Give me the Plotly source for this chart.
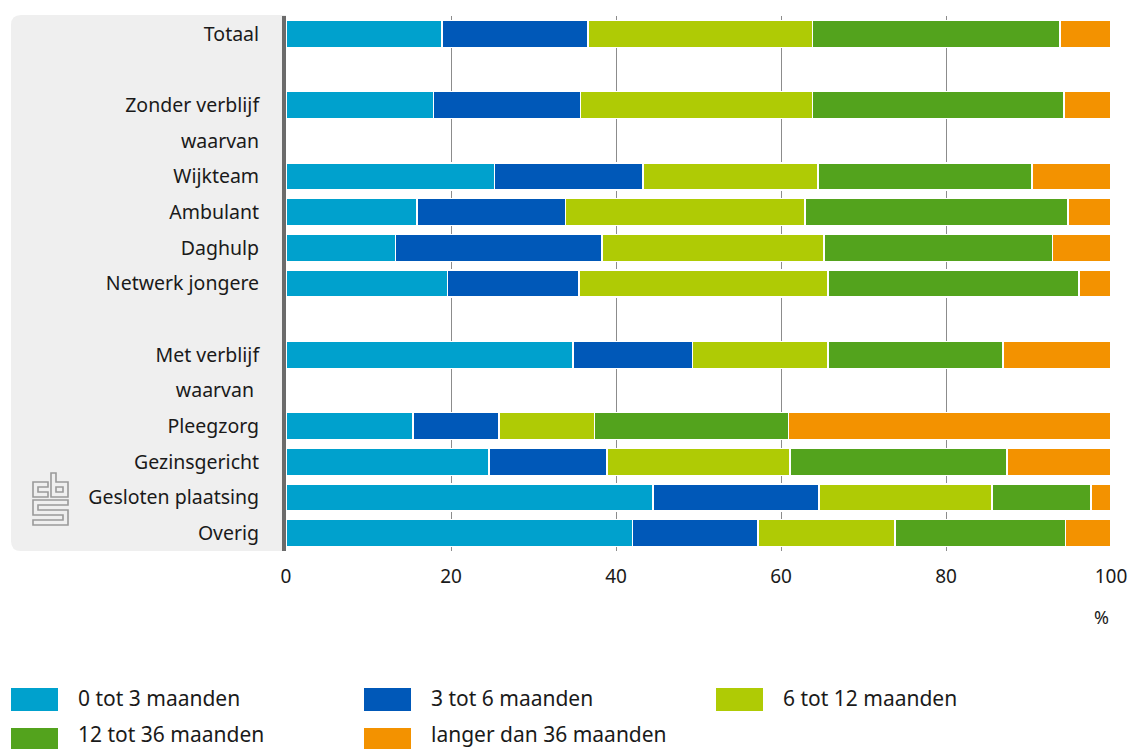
import plotly.graph_objects as go

# ── Data ──────────────────────────────────────────────────────────────────────
rows = [
    "Totaal", " ", "Zonder verblijf", "waarvan", "Wijkteam", "Ambulant",
    "Daghulp", "Netwerk jongere", "  ", "Met verblijf", "waarvan ",
    "Pleegzorg", "Gezinsgericht", "Gesloten plaatsing", "Overig",
]
series = [
    "0 tot 3 maanden", "3 tot 6 maanden", "6 tot 12 maanden",
    "12 tot 36 maanden", "langer dan 36 maanden",
]
m0_3   = [18.9, None, 17.9, None, 25.3, 15.9, 13.3, 19.6, None, 34.8, None, 15.4, 24.6, 44.5, 42.0]
m3_6   = [17.7, None, 17.8, None, 18.0, 18.0, 25.0, 15.9, None, 14.5, None, 10.4, 14.3, 20.1, 15.2]
m6_12  = [27.2, None, 28.1, None, 21.2, 29.0, 26.9, 30.2, None, 16.4, None, 11.6, 22.2, 21.0, 16.6]
m12_36 = [30.0, None, 30.5, None, 25.9, 31.9, 27.7, 30.4, None, 21.2, None, 23.5, 26.3, 12.0, 20.7]
m36    = [6.2, None, 5.7, None, 9.6, 5.2, 7.1, 3.9, None, 13.1, None, 39.1, 12.6, 2.4, 5.5]
values = [m0_3, m3_6, m6_12, m12_36, m36]
colors = ["#00a1cd", "#0058b8", "#afcb05", "#53a31d", "#f39200"]

x_ticks = [0, 20, 40, 60, 80, 100]

# ── Geometry ──────────────────────────────────────────────────────────────────
W, H = 1130, 749
ML, MT = 286, 16
PR, PB = 1111, 551
MR, MB = W - PR, H - PB
PW, PH = PR - ML, PB - MT
FONT = "Noto Sans, Lato, sans-serif"
TEXT = "#1a1a1a"


def px(x):
    # page pixel -> paper fraction
    return (x - ML) / PW


def py(y):
    return 1 - (y - MT) / PH


def path(points, close=True):
    s = "M " + " L ".join(f"{px(x):.5f},{py(y):.5f}" for x, y in points)
    return s + (" Z" if close else "")


fig = go.Figure()
for name, vals, col in zip(series, values, colors):
    fig.add_trace(go.Bar(
        y=rows, x=vals, name=name, orientation="h",
        marker=dict(color=col, line=dict(color="white", width=1.5)),
        width=0.76, showlegend=False, hoverinfo="x+y+name",
    ))

shapes = []
# grey label panel with rounded left corners
r = 10
x0, x1, y0, y1 = 11, 286, 15, 551
panel = (f"M {px(x1):.5f},{py(y0):.5f} L {px(x0 + r):.5f},{py(y0):.5f} "
         f"Q {px(x0):.5f},{py(y0):.5f} {px(x0):.5f},{py(y0 + r):.5f} "
         f"L {px(x0):.5f},{py(y1 - r):.5f} "
         f"Q {px(x0):.5f},{py(y1):.5f} {px(x0 + r):.5f},{py(y1):.5f} "
         f"L {px(x1):.5f},{py(y1):.5f} Z")
shapes.append(dict(type="path", path=panel, xref="paper", yref="paper",
                   fillcolor="#efefef", line=dict(width=0), layer="below"))

# cbs logo
logo = dict(color="#9a9a9a", width=1.6)
for pts in [
    [(48, 482), (33, 482), (33, 497), (48, 497), (48, 492), (38, 492), (38, 487), (48, 487)],
    [(51, 473), (56, 473), (56, 482), (68, 482), (68, 497), (51, 497)],
    [(56, 487), (63, 487), (63, 492), (56, 492)],
    [(33, 500), (68, 500), (68, 505), (38, 505), (38, 510), (68, 510), (68, 525),
     (33, 525), (33, 520), (63, 520), (63, 515), (33, 515)],
]:
    shapes.append(dict(type="path", path=path(pts), xref="paper", yref="paper",
                       line=logo, fillcolor="rgba(0,0,0,0)"))

# legend swatches and labels (second row sits at the bottom edge)
annotations = []
leg_pos = [(11, 688, 698), (364, 688, 698), (716, 688, 698), (11, 728, 734), (364, 728, 734)]
for (lx, ly, ty), name, col in zip(leg_pos, series, colors):
    shapes.append(dict(type="rect", xref="paper", yref="paper",
                       x0=px(lx), x1=px(lx + 47), y0=py(ly), y1=py(ly + 23),
                       fillcolor=col, line=dict(width=0)))
    annotations.append(dict(text=name, xref="paper", yref="paper",
                            x=px(lx + 65), y=py(ty), xanchor="left", yanchor="middle",
                            showarrow=False, font=dict(family=FONT, size=21, color=TEXT)))

annotations.append(dict(text="%", xref="paper", yref="paper", x=px(1111), y=py(617),
                        xanchor="right", yanchor="middle", showarrow=False,
                        font=dict(family=FONT, size=18, color=TEXT)))

fig.update_layout(
    width=W, height=H,
    margin=dict(l=ML, r=MR, t=MT, b=MB),
    barmode="stack",
    bargap=0.24,
    plot_bgcolor="white",
    paper_bgcolor="white",
    font=dict(family=FONT, size=19, color=TEXT),
    xaxis=dict(
        range=[0, 100], tickvals=x_ticks, showgrid=True, gridcolor="#8c8c8c",
        gridwidth=1.2, zeroline=False, showline=False, ticks="", automargin=False,
        tickfont=dict(size=19, color=TEXT), ticklabelstandoff=12,
    ),
    yaxis=dict(
        categoryorder="array", categoryarray=rows, autorange="reversed",
        showgrid=False, showline=True, linecolor="#6b6b6b", linewidth=4,
        ticks="", ticklabelstandoff=19, tickfont=dict(size=19.5, color=TEXT),
        automargin=False,
    ),
    shapes=shapes,
    annotations=annotations,
    showlegend=False,
)

# page without body margin / scrollbars so the figure fills the window exactly
fig.write_html(
    "out.html",
    config={"displayModeBar": False},
    post_script="document.body.style.margin='0';document.body.style.overflow='hidden';",
)
